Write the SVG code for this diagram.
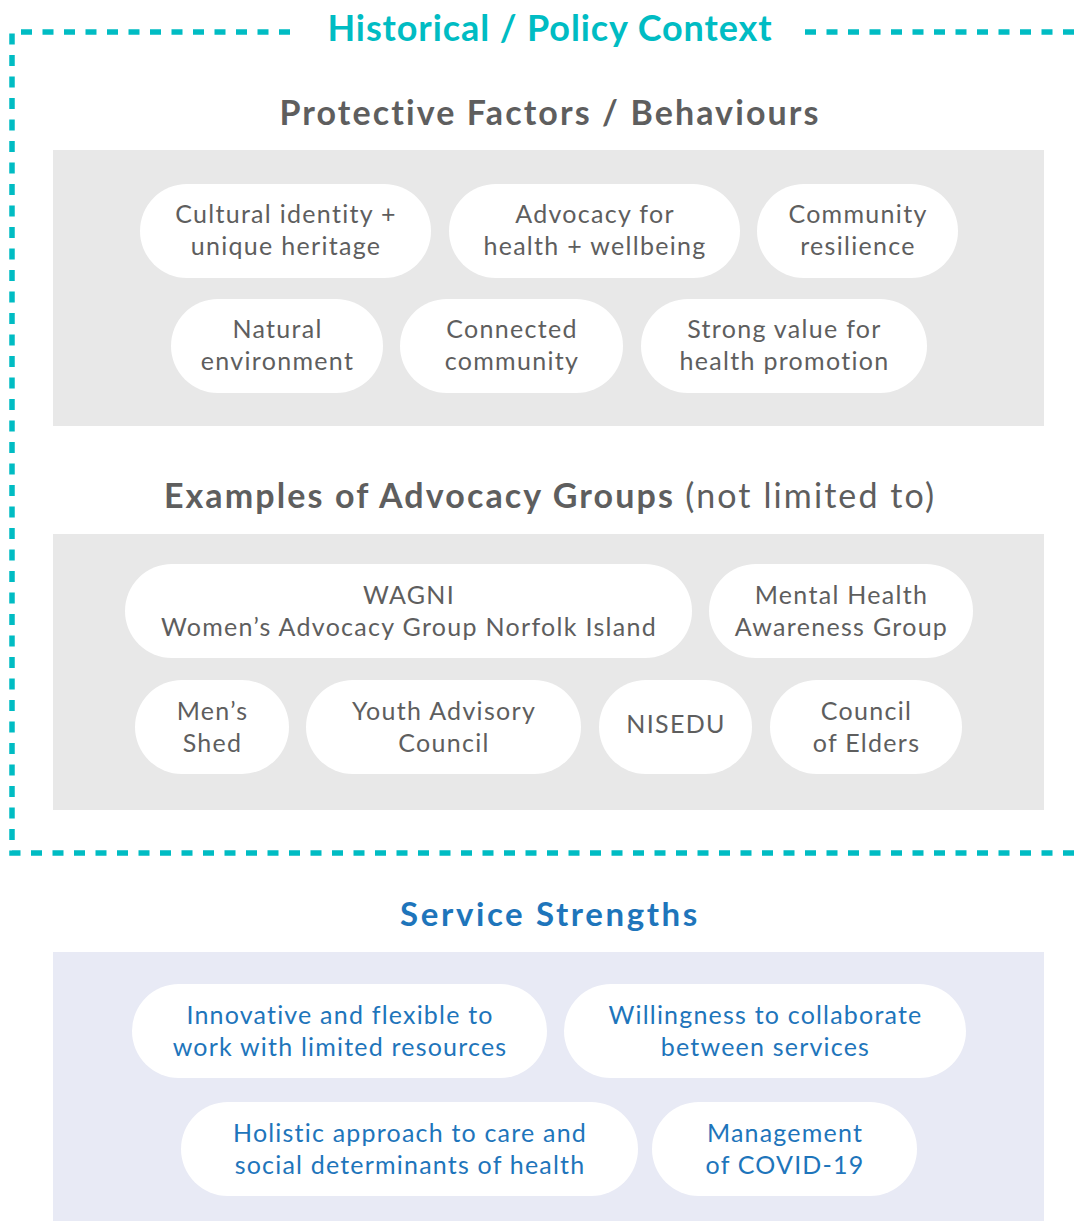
<svg xmlns="http://www.w3.org/2000/svg" width="1078" height="1221" viewBox="0 0 1078 1221">
  <style>
    .panel-gray { fill: #e8e8e8; }
    .panel-blue { fill: #e8eaf5; }
    .pill { fill: #ffffff; }
    .frame { fill: none; stroke: #00bcc3; stroke-width: 5.5; stroke-dasharray: 11 10.5; }
    .h-teal { font-family: Lato, "Liberation Sans", sans-serif; font-weight: 700; font-size: 36px; fill: #00bcc3; text-anchor: middle; letter-spacing: 0.9px; }
    .h-gray { font-family: Lato, "Liberation Sans", sans-serif; font-weight: 700; font-size: 34px; fill: #5e5e5e; text-anchor: middle; letter-spacing: 2.1px; }
    .h-blue { font-family: Lato, "Liberation Sans", sans-serif; font-weight: 700; font-size: 33px; fill: #1e75bb; text-anchor: middle; letter-spacing: 2.6px; }
    .thin { font-weight: 400; }
    .t-gray { font-family: Lato, "Liberation Sans", sans-serif; font-size: 25px; fill: #5e5e5e; text-anchor: middle; letter-spacing: 1.3px; }
    .t-blue { font-family: Lato, "Liberation Sans", sans-serif; font-size: 25px; fill: #1e75bb; text-anchor: middle; letter-spacing: 1.2px; }
  </style>

  <rect width="1078" height="1221" fill="#ffffff"/>

  <!-- dashed context frame -->
  <g id="context-frame">
    <path class="frame" d="M290,32 H12 V853 H1078"/>
    <path class="frame" d="M805,32 H1078"/>
    <text class="h-teal" x="550" y="41">Historical / Policy Context</text>
  </g>

  <!-- Protective factors -->
  <g id="protective-factors">
    <text class="h-gray" x="550" y="125">Protective Factors / Behaviours</text>
    <rect class="panel-gray" x="53" y="150" width="991" height="276"/>
  </g>
  <g id="pf-cultural"><rect class="pill" x="140" y="184" width="291" height="94" rx="47"/>
    <text class="t-gray" x="286" y="223">Cultural identity +</text><text class="t-gray" x="286" y="255">unique heritage</text></g>
  <g id="pf-advocacy"><rect class="pill" x="449" y="184" width="291" height="94" rx="47"/>
    <text class="t-gray" x="595" y="223">Advocacy for</text><text class="t-gray" x="595" y="255">health + wellbeing</text></g>
  <g id="pf-resilience"><rect class="pill" x="757" y="184" width="201" height="94" rx="47"/>
    <text class="t-gray" x="858" y="223">Community</text><text class="t-gray" x="858" y="255">resilience</text></g>
  <g id="pf-environment"><rect class="pill" x="171" y="299" width="212" height="94" rx="47"/>
    <text class="t-gray" x="277.5" y="338">Natural</text><text class="t-gray" x="277.5" y="370">environment</text></g>
  <g id="pf-connected"><rect class="pill" x="400" y="299" width="223" height="94" rx="47"/>
    <text class="t-gray" x="512" y="338">Connected</text><text class="t-gray" x="512" y="370">community</text></g>
  <g id="pf-promotion"><rect class="pill" x="641" y="299" width="286" height="94" rx="47"/>
    <text class="t-gray" x="784.5" y="338">Strong value for</text><text class="t-gray" x="784.5" y="370">health promotion</text></g>

  <!-- Advocacy groups -->
  <g id="advocacy-groups">
    <text class="h-gray" x="550" y="508">Examples of Advocacy Groups <tspan class="thin">(not limited to)</tspan></text>
    <rect class="panel-gray" x="53" y="534" width="991" height="276"/>
  </g>
  <g id="ag-wagni"><rect class="pill" x="125" y="564" width="567" height="94" rx="47"/>
    <text class="t-gray" x="409" y="604">WAGNI</text><text class="t-gray" x="409" y="636">Women’s Advocacy Group Norfolk Island</text></g>
  <g id="ag-mental-health"><rect class="pill" x="709" y="564" width="264" height="94" rx="47"/>
    <text class="t-gray" x="841.5" y="604">Mental Health</text><text class="t-gray" x="841.5" y="636">Awareness Group</text></g>
  <g id="ag-mens-shed"><rect class="pill" x="135" y="680" width="154" height="94" rx="47"/>
    <text class="t-gray" x="212.5" y="720">Men’s</text><text class="t-gray" x="212.5" y="752">Shed</text></g>
  <g id="ag-youth"><rect class="pill" x="306" y="680" width="275" height="94" rx="47"/>
    <text class="t-gray" x="444" y="720">Youth Advisory</text><text class="t-gray" x="444" y="752">Council</text></g>
  <g id="ag-nisedu"><rect class="pill" x="599" y="680" width="153" height="94" rx="47"/>
    <text class="t-gray" x="676" y="733">NISEDU</text></g>
  <g id="ag-elders"><rect class="pill" x="770" y="680" width="192" height="94" rx="47"/>
    <text class="t-gray" x="866.5" y="720">Council</text><text class="t-gray" x="866.5" y="752">of Elders</text></g>

  <!-- Service strengths -->
  <g id="service-strengths">
    <text class="h-blue" x="550" y="926">Service Strengths</text>
    <rect class="panel-blue" x="53" y="952" width="991" height="269"/>
  </g>
  <g id="ss-innovative"><rect class="pill" x="132" y="984" width="415" height="94" rx="47"/>
    <text class="t-blue" x="340" y="1024">Innovative and flexible to</text><text class="t-blue" x="340" y="1056">work with limited resources</text></g>
  <g id="ss-collaborate"><rect class="pill" x="564" y="984" width="402" height="94" rx="47"/>
    <text class="t-blue" x="765.5" y="1024">Willingness to collaborate</text><text class="t-blue" x="765.5" y="1056">between services</text></g>
  <g id="ss-holistic"><rect class="pill" x="181" y="1102" width="457" height="94" rx="47"/>
    <text class="t-blue" x="410" y="1142">Holistic approach to care and</text><text class="t-blue" x="410" y="1174">social determinants of health</text></g>
  <g id="ss-covid"><rect class="pill" x="652" y="1102" width="265" height="94" rx="47"/>
    <text class="t-blue" x="785" y="1142">Management</text><text class="t-blue" x="785" y="1174">of COVID-19</text></g>

  <!-- no connectors in this layout -->
  <g id="connectors"/>
</svg>
